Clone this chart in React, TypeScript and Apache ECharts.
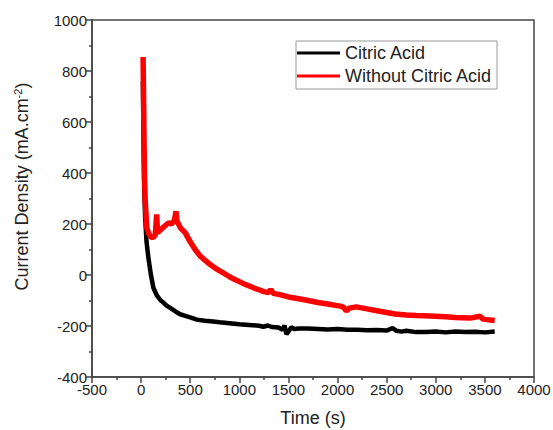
import React, { useEffect, useRef } from "react";
import * as echarts from "echarts";

const seriesNames = ["Citric Acid", "Without Citric Acid"];

const timeCitric = [18, 25, 32, 41, 55, 74, 100, 125, 160, 200, 227, 260, 300, 350, 397, 450, 500, 567, 650, 733, 800, 900, 1000, 1100, 1200, 1245, 1290, 1330, 1400, 1440, 1460, 1480, 1500, 1530, 1560, 1600, 1700, 1800, 1900, 2000, 2100, 2200, 2300, 2400, 2500, 2560, 2600, 2650, 2700, 2800, 2900, 3000, 3100, 3200, 3300, 3400, 3500, 3600];
const currentCitric = [760, 500, 330, 227, 130, 68, 0, -50, -80, -100, -108, -120, -130, -143, -154, -160, -166, -175, -179, -182, -185, -189, -193, -196, -199, -203, -198, -204, -206, -215, -198, -232, -222, -205, -212, -210, -210, -212, -214, -212, -215, -215, -217, -216, -218, -208, -219, -222, -219, -224, -224, -222, -225, -222, -224, -223, -225, -222];

const timeNoCitric = [20, 25, 30, 35, 42, 58, 80, 100, 120, 145, 158, 168, 190, 220, 250, 280, 310, 340, 355, 365, 400, 450, 500, 550, 600, 650, 700, 750, 800, 850, 900, 950, 1000, 1050, 1100, 1150, 1200, 1250, 1300, 1320, 1345, 1400, 1500, 1620, 1700, 1800, 1900, 2026, 2060, 2088, 2120, 2190, 2300, 2400, 2500, 2587, 2700, 2800, 2943, 3100, 3200, 3350, 3450, 3480, 3520, 3600];
const currentNoCitric = [855, 700, 520, 380, 290, 185, 160, 150, 146, 158, 238, 165, 175, 185, 195, 205, 200, 215, 250, 212, 185, 165, 130, 100, 75, 58, 42, 28, 16, 5, -7, -17, -26, -35, -43, -51, -58, -65, -69, -57, -72, -76, -86, -94, -100, -108, -114, -122, -126, -141, -130, -125, -133, -140, -147, -153, -157, -159, -161, -164, -167, -169, -162, -173, -175, -178];

const xTicks = { min: -500, max: 4000, interval: 500 };
const yTicks = { min: -400, max: 1000, interval: 200 };

export default function App() {
  const ref = useRef<HTMLDivElement>(null);
  useEffect(() => {
    if (!ref.current) return;
    const chart = echarts.init(ref.current, null, { renderer: "svg" });
    const axisColor = "#444";
    const textColor = "#222";
    const font = "Liberation Sans, Arial, sans-serif";
    chart.setOption({
      animation: false,
      backgroundColor: "#fff",
      textStyle: { fontFamily: font },
      grid: {
        left: 92,
        top: 20,
        right: 19,
        bottom: 53,
        outerBoundsMode: "none",
        containLabel: false,
        show: true,
        borderColor: axisColor,
        borderWidth: 1.5,
        backgroundColor: "transparent",
      },
      legend: {
        orient: "vertical",
        left: 296,
        top: 41,
        padding: [2, 5, 3, 1],
        itemGap: 3,
        itemWidth: 43,
        itemHeight: 3,
        borderColor: "#999",
        borderWidth: 1,
        textStyle: { fontSize: 18, color: textColor, fontFamily: font, lineHeight: 20 },
        data: seriesNames.map((n) => ({ name: n, icon: "rect" })),
        itemStyle: { borderWidth: 0 },
      },
      xAxis: {
        type: "value",
        min: xTicks.min,
        max: xTicks.max,
        interval: xTicks.interval,
        name: "Time (s)",
        nameLocation: "middle",
        nameGap: 32,
        nameTextStyle: { fontSize: 18, color: textColor, fontFamily: font },
        axisLine: { show: true, onZero: false, lineStyle: { color: axisColor, width: 1.5 } },
        axisTick: { show: true, inside: false, length: 6, lineStyle: { color: axisColor, width: 1.5 } },
        minorTick: { show: true, splitNumber: 2, length: 3, lineStyle: { color: axisColor, width: 1.5 } },
        splitLine: { show: false },
        axisLabel: { fontSize: 15, color: textColor, margin: 5, fontFamily: font, formatter: (v: number) => String(v) },
      },
      yAxis: {
        type: "value",
        min: yTicks.min,
        max: yTicks.max,
        interval: yTicks.interval,
        name: "Current Density (mA.cm{sup|-2})",
        nameLocation: "middle",
        nameGap: 60,
        nameRotate: 90,
        nameTextStyle: {
          fontSize: 18,
          color: textColor,
          fontFamily: font,
          padding: [0, 0, 0, 24],
          rich: {
            sup: { fontSize: 11, color: textColor, fontFamily: font, padding: [0, 0, 9, 0] },
          },
        },
        axisLine: { show: true, onZero: false, lineStyle: { color: axisColor, width: 1.5 } },
        axisTick: { show: true, inside: false, length: 6, lineStyle: { color: axisColor, width: 1.5 } },
        minorTick: { show: true, splitNumber: 2, length: 3, lineStyle: { color: axisColor, width: 1.5 } },
        splitLine: { show: false },
        axisLabel: { fontSize: 15, color: textColor, margin: 5, fontFamily: font, formatter: (v: number) => String(v) },
      },
      series: [
        {
          name: seriesNames[0],
          type: "line",
          symbol: "none",
          color: "#000",
          lineStyle: { color: "#000", width: 4.5 },
          data: timeCitric.map((t, i) => [t, currentCitric[i]]),
        },
        {
          name: seriesNames[1],
          type: "line",
          symbol: "none",
          color: "#ff0000",
          lineStyle: { color: "#ff0000", width: 5.5 },
          data: timeNoCitric.map((t, i) => [t, currentNoCitric[i]]),
        },
      ],
    });
    return () => chart.dispose();
  }, []);
  return (
    <div
      ref={ref}
      style={{ position: "fixed", left: 0, top: 0, width: 553, height: 430, background: "#fff" }}
    />
  );
}
